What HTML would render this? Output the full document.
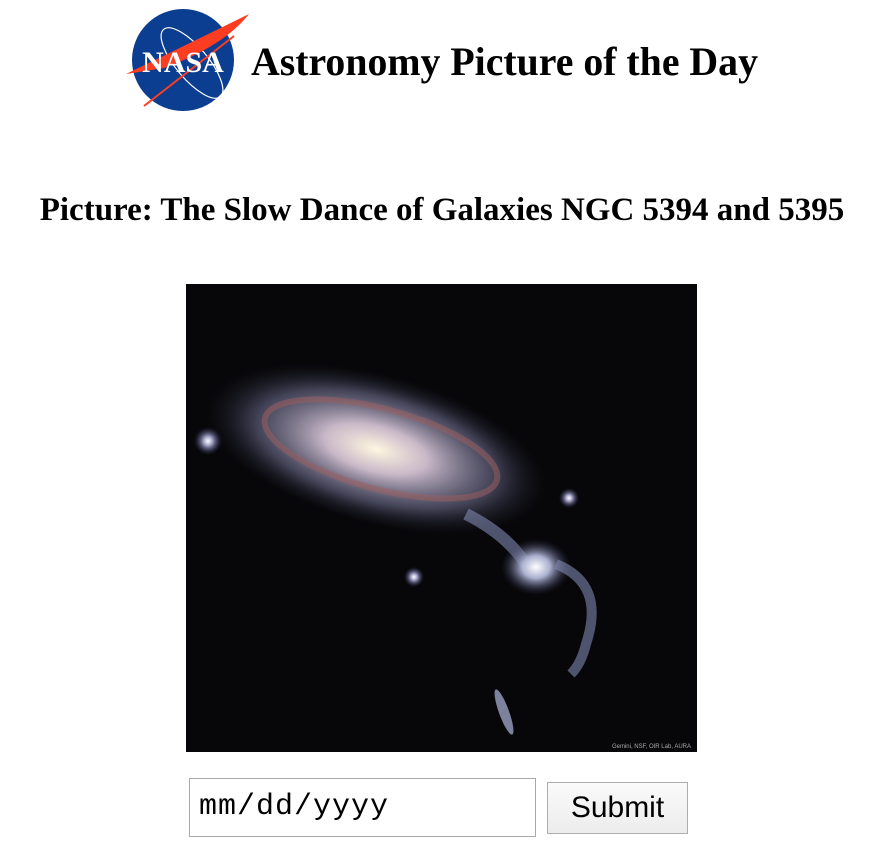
<!DOCTYPE html>
<html><head><meta charset="utf-8"><style>
body{margin:0;width:880px;height:845px;background:#fff;position:relative;overflow:hidden;font-family:"Liberation Serif",serif}
.abs{position:absolute}
#title{left:251px;top:37px;font-size:39.8px;font-weight:bold;line-height:50px;white-space:nowrap}
#sub{left:0;width:884px;text-align:center;top:190px;font-size:33px;font-weight:bold;line-height:40px;white-space:nowrap}
#img{left:186px;top:284px;width:511px;height:468px;background:#07070a;overflow:hidden}
#date{left:189px;top:778px;border:1px solid #a9a9a9;font-family:"Liberation Mono",monospace;font-size:30px;letter-spacing:1px;line-height:57px;padding-left:9px;box-sizing:border-box;width:347px;height:59px}
#btn{left:547px;top:782px;width:141px;height:52px;border:1px solid #adadad;background:linear-gradient(#fafafa,#ececec);font-family:"Liberation Sans",sans-serif;font-size:30px;line-height:50px;text-align:center;box-sizing:border-box}
</style></head><body>
<svg class="abs" style="left:124px;top:6px" width="128" height="108" viewBox="0 0 128 108">
<circle cx="59" cy="54" r="51" fill="#0b3d91"/>
<ellipse cx="68" cy="57" rx="16" ry="44" transform="rotate(-40 68 57)" fill="none" stroke="#fff" stroke-width="1.2"/>
<path d="M2 68 Q60 40 125 8 Q100 40 40 62 Z" fill="#fc3d21"/>
<path d="M20 100 L110 30" stroke="#fc3d21" stroke-width="2"/>
<text x="59" y="66" text-anchor="middle" font-family="Liberation Serif" font-weight="bold" font-size="30" fill="#fff">NASA</text>
</svg>
<div id="title" class="abs">Astronomy Picture of the Day</div>
<div id="sub" class="abs">Picture: The Slow Dance of Galaxies NGC 5394 and 5395</div>
<div id="img" class="abs">
<svg width="511" height="468">
<defs>
<radialGradient id="g1"><stop offset="0" stop-color="#fff6e0"/><stop offset="0.3" stop-color="#c8b8c8"/><stop offset="0.7" stop-color="#6a6a8a" stop-opacity="0.6"/><stop offset="1" stop-color="#202030" stop-opacity="0"/></radialGradient>
<radialGradient id="g2"><stop offset="0" stop-color="#fff"/><stop offset="0.4" stop-color="#aab0d0"/><stop offset="1" stop-color="#303050" stop-opacity="0"/></radialGradient>
<radialGradient id="st"><stop offset="0" stop-color="#fff"/><stop offset="0.3" stop-color="#aac"/><stop offset="1" stop-color="#336" stop-opacity="0"/></radialGradient>
</defs>
<ellipse cx="190" cy="165" rx="175" ry="75" transform="rotate(15 190 165)" fill="url(#g1)"/>
<ellipse cx="195" cy="165" rx="120" ry="40" transform="rotate(15 195 165)" fill="none" stroke="#a06060" stroke-width="6" opacity="0.5"/>
<path d="M280 230 Q320 250 340 280" stroke="#8088b0" stroke-width="12" fill="none" opacity="0.6"/>
<ellipse cx="350" cy="283" rx="35" ry="28" fill="url(#g2)"/>
<path d="M370 280 Q420 300 400 360 Q395 380 385 390" stroke="#8088b0" stroke-width="10" fill="none" opacity="0.6"/>
<circle cx="22" cy="157" r="14" fill="url(#st)"/>
<circle cx="383" cy="214" r="10" fill="url(#st)"/>
<circle cx="228" cy="293" r="10" fill="url(#st)"/>
<ellipse cx="318" cy="428" rx="5" ry="24" transform="rotate(-20 318 428)" fill="#9aa0c0" opacity="0.8"/>
<text x="505" y="464" text-anchor="end" font-family="Liberation Sans" font-size="6" fill="#aaa">Gemini, NSF, OIR Lab, AURA</text>
</svg></div>
<div id="date" class="abs">mm/dd/yyyy</div>
<div id="btn" class="abs">Submit</div>
</body></html>
